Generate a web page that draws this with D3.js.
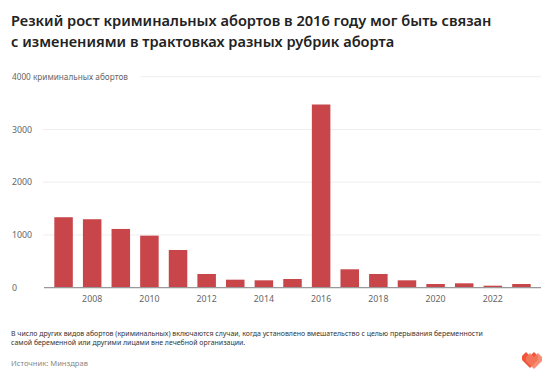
<!DOCTYPE html>
<html><head><meta charset="utf-8">
<script src="https://cdn.jsdelivr.net/npm/d3@7"></script>
<style>
html,body{margin:0;padding:0;background:#fff;}
svg{display:block;font-family:"Noto Sans",sans-serif;}
</style></head>
<body><svg id="c" width="555" height="380"></svg>
<script>
const years = [2007,2008,2009,2010,2011,2012,2013,2014,2015,2016,2017,2018,2019,2020,2021,2022,2023];
const values = [1336,1298,1114,987,715,260,152,140,165,3473,349,260,140,70,83,38,70];
const yTicks = [0,1000,2000,3000,4000];
const xTickYears = [2008,2010,2012,2014,2016,2018,2020,2022];
const titleLines = ["Резкий рост криминальных абортов в 2016 году мог быть связан","с изменениями в трактовках разных рубрик аборта"];
const unitLabel = "криминальных абортов";
const noteLines = ["В число других видов абортов (криминальных) включаются случаи, когда установлено вмешательство с целью прерывания беременности","самой беременной или другими лицами вне лечебной организации."];
const sourceText = "Источник: Минздрав";

(function(){
const svg = d3.select("#c");
const mLeft=44, mRight=541, mTop=76.7, mBottom=287.7;

function fit(sel, target){
  const n = sel.node(); const w = n.getComputedTextLength();
  const fs = parseFloat(sel.attr("font-size"));
  sel.attr("font-size", fs*target/w);
}

// title
const t1 = svg.append("text").attr("x",11).attr("y",25.5).attr("font-size",17).attr("font-weight",600).attr("fill","#222").text(titleLines[0]);
fit(t1, 481);
svg.append("text").attr("x",11).attr("y",46.5).attr("font-size",t1.attr("font-size")).attr("font-weight",600).attr("fill","#222").text(titleLines[1]);

const x = d3.scaleBand().domain(years).range([mLeft,mRight]).paddingInner(0.353).paddingOuter(0.36);
const y = d3.scaleLinear().domain([0,4000]).range([mBottom,mTop]);

// unit label
const ul = svg.append("text").attr("x",12).attr("y",y(4000)).attr("dy","0.35em").attr("font-size",7.6).attr("fill","#666").text("4000 "+unitLabel);
fit(ul, 116);
const ulEnd = 12 + ul.node().getComputedTextLength() + 12;

// gridlines
svg.append("g").selectAll("line").data(yTicks.filter(d=>d>0)).join("line")
  .attr("x1",d=>d===4000?ulEnd:mLeft-1).attr("x2",mRight).attr("y1",d=>y(d)).attr("y2",d=>y(d))
  .attr("stroke","#efefef").attr("stroke-width",1);

// y tick labels
svg.append("g").selectAll("text").data(yTicks.filter(d=>d<4000)).join("text")
  .attr("x",12).attr("y",d=>y(d)).attr("dy","0.35em").attr("font-size",8.8).attr("fill","#666").text(d=>d);

// bars
svg.append("g").selectAll("rect").data(years).join("rect")
  .attr("x",d=>x(d)).attr("width",x.bandwidth())
  .attr("y",(d,i)=>y(values[i])).attr("height",(d,i)=>y(0)-y(values[i]))
  .attr("fill","#c8464a");

// baseline
svg.append("line").attr("x1",mLeft).attr("x2",mRight).attr("y1",y(0)).attr("y2",y(0)).attr("stroke","#999").attr("stroke-width",1.3);

// x axis labels
const xa = svg.append("g").attr("transform",`translate(0,${y(0)})`).call(d3.axisBottom(x).tickValues(xTickYears).tickSize(0).tickPadding(8));
xa.select(".domain").remove();
xa.selectAll("text").attr("font-size",8.8).attr("fill","#666").attr("font-family","Noto Sans, sans-serif");

// notes
const n1 = svg.append("text").attr("x",11).attr("y",335.5).attr("font-size",7.2).attr("fill","#333").text(noteLines[0]);
fit(n1, 472);
svg.append("text").attr("x",11).attr("y",345).attr("font-size",n1.attr("font-size")).attr("fill","#333").text(noteLines[1]);
svg.append("text").attr("x",11).attr("y",365.5).attr("font-size",7.6).attr("fill","#888").text(sourceText);

// logo
const lg = svg.append("g").attr("transform","translate(532,360)");
lg.append("path").attr("d","M-10,-4 L-6,-8 L-2,-4 L2,-8 L6,-4 L6,0 L-2,8 L-10,0 Z").attr("fill","#f0553c");
lg.append("path").attr("d","M-2,-4 L2,-8 L6,-4 L10,-8 L14,-4 L14,0 L6,8 L-2,0 Z").attr("fill","#f47a5e").attr("opacity",0.85).attr("transform","translate(-4,1)");
})();
</script></body></html>
